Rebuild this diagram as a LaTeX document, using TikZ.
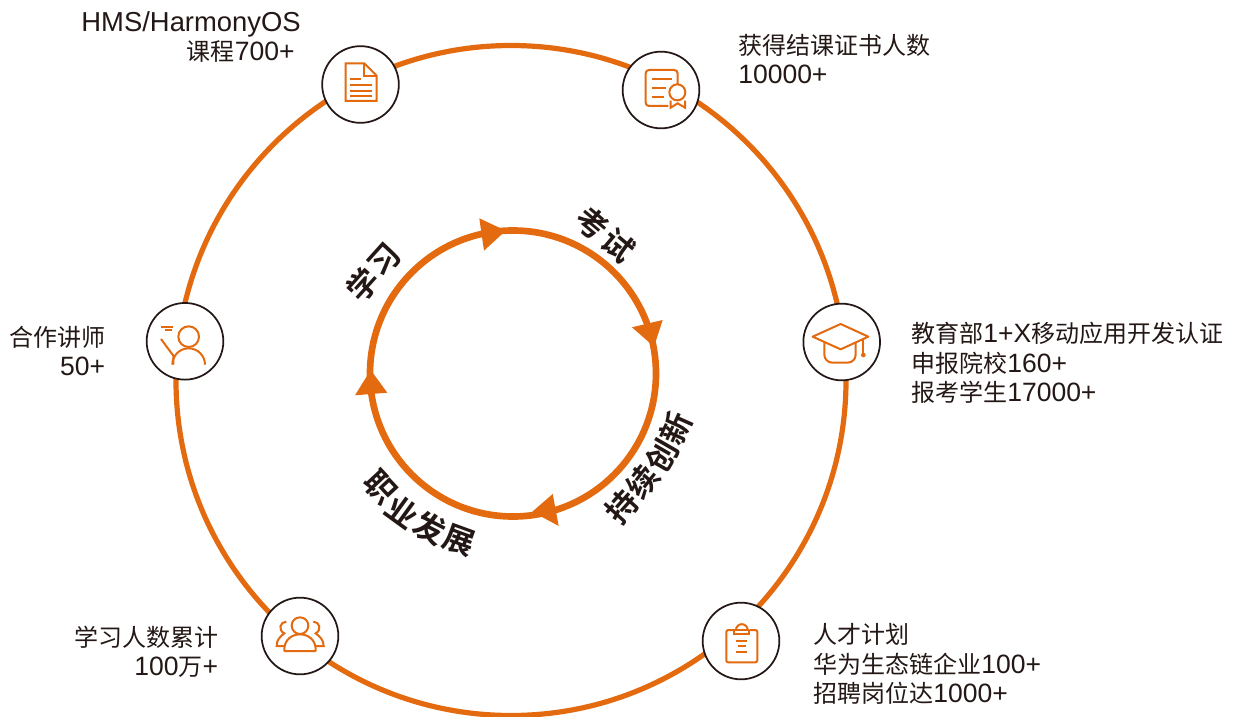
\documentclass[tikz,border=0pt]{standalone}
\usepackage{fontspec}
\setmainfont[Scale=1.105]{Liberation Sans}
\newfontfamily\cjk{Noto Sans CJK SC}
\newfontfamily\cjkb{Noto Sans CJK SC Bold}
\newcommand{\cj}[1]{{\cjk #1}}
\definecolor{org}{HTML}{E36A0F}
\definecolor{ink}{HTML}{231815}
\tikzset{
  bigring/.style={draw=org,line width=3.9pt},
  innerring/.style={draw=org,line width=5pt},
  head/.style={fill=org,draw=none},
  badge/.style={circle,draw=ink,line width=1.3pt,fill=white,minimum size=57.5pt,inner sep=0pt},
  ico/.style={draw=org,line width=1.5pt,line join=miter},
  lbl/.style={text=ink,font=\fontsize{18}{22.1}\selectfont,inner sep=0pt},
  lblL/.style={lbl,anchor=west,align=left},
  lblR/.style={lbl,anchor=east,align=right},
  glyph/.style={text=ink,font=\fontsize{23.5}{25}\cjkb,inner sep=0pt}
}
\begin{document}
\begin{tikzpicture}[x=0.75pt,y=-0.75pt]
\useasboundingbox (0,0) rectangle (1233,717);
% outer ring
\draw[bigring] (511,380.5) circle[radius=335];
% inner ring
\draw[innerring] (513,373.5) circle[radius=143];
\fill[head] (479.3,218.3)--(505.7,230.7)--(484,250.7)--cycle;
\fill[head] (662.7,320)--(654,346.7)--(632,327.3)--cycle;
\fill[head] (552.7,494)--(532.3,511.7)--(558.7,526)--cycle;
\fill[head] (370.7,370)--(387.3,392.7)--(355,395.3)--cycle;
% ring labels
\node[glyph,rotate=48] (x1) at (363,285) {学};
\node[glyph,rotate=48] (x2) at (385,260) {习};
\node[glyph,rotate=-40] (k1) at (592,223) {考};
\node[glyph,rotate=-40] (k2) at (618,245) {试};
\node[glyph,rotate=48] (c1) at (622,507) {持};
\node[glyph,rotate=52] (c2) at (643,482) {续};
\node[glyph,rotate=60] (c3) at (662,456) {创};
\node[glyph,rotate=66] (c4) at (676,428) {新};
\node[glyph,rotate=-47] (z1) at (380,487) {职};
\node[glyph,rotate=-36] (z2) at (402,512) {业};
\node[glyph,rotate=-27] (z3) at (430,528) {发};
\node[glyph,rotate=-20] (z4) at (459,540) {展};
% badges
\node[badge] (b1) at (360.5,84.5) {};
\node[badge] (b2) at (661,90) {};
\node[badge] (b3) at (841.7,342) {};
\node[badge] (b4) at (185,341.3) {};
\node[badge] (b5) at (300,636) {};
\node[badge] (b6) at (741,641) {};
% icon 1
\begin{scope}[shift={(300,30)},scale=1/3]
\draw[ico] (137,100)--(193,100)--(230,137)--(230,213)--(137,213)--cycle;
\draw[ico] (193,100)--(193,137)--(230,137);
\draw[ico] (150,148)--(183,148) (150,165)--(215,165) (150,182)--(215,182) (150,198)--(215,198);
\end{scope}
% icon 2
\begin{scope}[shift={(605,35)},scale=1/3]
\draw[ico,rounded corners=2.5pt] (190,213)--(122,213)--(122,105)--(218,105)--(218,148);
\draw[ico] (140,133)--(200,133) (140,159)--(183,159) (140,185)--(178,185);
\draw[ico] (217,172) circle[radius=24];
\draw[ico] (197,197)--(197,218)--(218,205)--(240,218)--(240,197);
\end{scope}
% icon 3
\begin{scope}[shift={(790,290)},scale=1/3]
\draw[ico,rounded corners=6pt] (103,158)--(103,218)--(197,218)--(197,158);
\fill[white] (68,140)--(152,102)--(235,140)--(152,178)--cycle;
\draw[ico,line join=round] (68,140)--(152,102)--(235,140)--(152,178)--cycle;
\draw[ico] (220,148)--(220,192);
\fill[org] (220,195) circle[radius=7];
\end{scope}
% icon 4
\begin{scope}[shift={(130,290)},scale=1/3]
\draw[ico] (176,140) circle[radius=31];
\draw[ico] (127,224) arc[start angle=180,end angle=360,radius=49];
\draw[ico] (93,147)--(130,197)--(130,224);
\draw[ico] (93,110)--(130,110) (105,120)--(125,120);
\end{scope}
% icon 5
\begin{scope}[shift={(245,590)},scale=1/3]
\draw[ico] (165,107) circle[radius=25];
\draw[ico,line join=round] (118,183)--(118,178) .. controls (118,150) and (140,133) .. (165,133) .. controls (190,133) and (212,150) .. (212,178)--(212,183)--cycle;
\draw[ico] (124,95) .. controls (105,95) and (98,120) .. (118,130) .. controls (105,140) and (95,150) .. (95,168)--(118,168);
\draw[ico] (205,95) .. controls (224,95) and (231,120) .. (212,130) .. controls (225,140) and (236,150) .. (236,168)--(212,168);
\end{scope}
% icon 6
\begin{scope}[shift={(685,590)},scale=1/3]
\draw[ico,rounded corners=1.5pt] (147,120)--(124,120)--(124,217)--(217,217)--(217,120)--(193,120);
\draw[ico] (147,120)--(147,133)--(193,133)--(193,120);
\draw[ico] (153,120) arc[start angle=180,end angle=360,radius=17.5];
\draw[ico] (147,120)--(193,120);
\draw[ico] (153,152)--(185,152) (158,169)--(182,169) (153,185)--(185,185);
\end{scope}
% texts
\node[lblR] (t1) at (301,37) {{\fontsize{18.6}{22.1}\selectfont HMS/HarmonyOS}\\\cj{课程}700+\hspace*{4.5pt}};
\node[lblL] (t2) at (738,59) {\cj{获得结课证书人数}\\10000+};
\node[lblL] (t3) at (911,363) {\cj{教育部}1+X\cj{移动应用开发认证}\\\cj{申报院校}160+\\\cj{报考学生}17000+};
\node[lblR] (t4) at (105.5,351) {\cj{合作讲师}\\50+};
\node[lblR] (t5) at (218.5,652) {\cj{学习人数累计}\\100\cj{万}+};
\node[lblL] (t6) at (813,664) {\cj{人才计划}\\\cj{华为生态链企业}100+\\\cj{招聘岗位达}1000+};
\end{tikzpicture}
\end{document}
